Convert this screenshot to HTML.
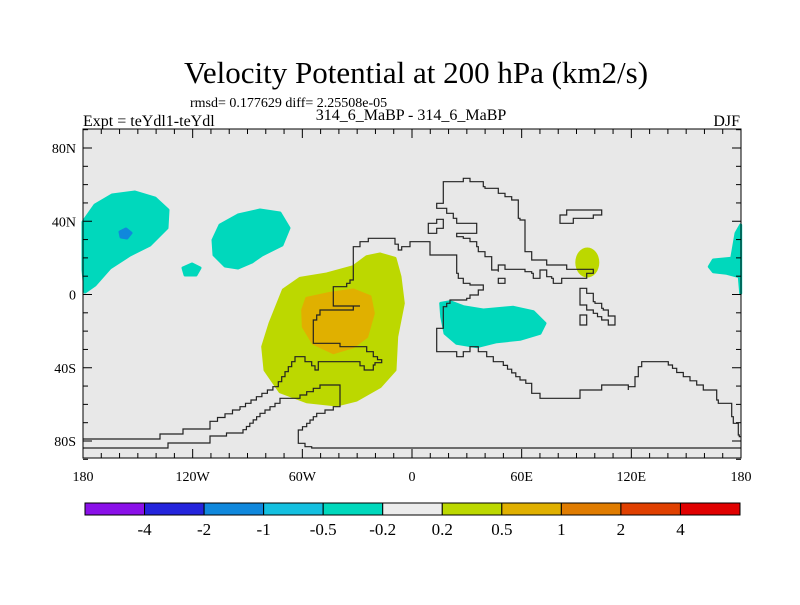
<!DOCTYPE html>
<html><head><meta charset="utf-8"><style>
body{margin:0;background:#fff;}
svg text{font-family:"Liberation Serif",serif;fill:#000;}
</style></head><body>
<svg id="chart" width="800" height="600" viewBox="0 0 800 600" xmlns="http://www.w3.org/2000/svg">
<text x="416" y="83" font-size="31" text-anchor="middle">Velocity Potential at 200 hPa (km2/s)</text>
<text x="190" y="107" font-size="14">rmsd= 0.177629 diff= 2.25508e-05</text>
<text x="83" y="126" font-size="16">Expt = teYdl1-teYdl</text>
<text x="411" y="120" font-size="16" text-anchor="middle">314_6_MaBP - 314_6_MaBP</text>
<text x="740" y="126" font-size="16" text-anchor="end">DJF</text>
<g id="plot"></g>
<g id="axes"></g>
<g id="cbar"></g>
</svg>
<script>
const levels=["-4","-2","-1","-0.5","-0.2","0.2","0.5","1","2","4"];
const colors=["#8a10e8","#2424dc","#1088dc","#14c0e0","#00d8bc","#ececec","#bcd800","#e0b000","#e07c00","#e04000","#e00000"];
const latTicks=[80,40,0,-40,-80];
const latLabels=["80N","40N","0","40S","80S"];
const lonTicks=[-180,-120,-60,0,60,120,180];
const lonLabels=["180","120W","60W","0","60E","120E","180"];
const NS="http://www.w3.org/2000/svg";
const X0=83,X1=741,Y0=129,Y1=458;
const lx=lon=>X0+(lon+180)/360*(X1-X0);
const ly=lat=>294.5-lat*(73.25/40);
function mk(t,a,p){const e=document.createElementNS(NS,t);for(const k in a)e.setAttribute(k,a[k]);p.appendChild(e);return e;}
const plot=document.getElementById('plot');
const bg=mk('rect',{x:X0,y:Y0,width:X1-X0,height:Y1-Y0,fill:'#e8e8e8'},plot);


const z3=p=>p.map(([x,y])=>[240+x/3,170+y/3]);
const z4=p=>p.map(([x,y])=>[420+x/3,170+y/3]);
const pts=a=>a.map(p=>p[0].toFixed(1)+','+p[1].toFixed(1)).join(' ');
function stepify(a,closed){const o=[];const n=a.length;for(let i=0;i<n;i++){o.push(a[i]);const b=a[(i+1)%n];if(i===n-1&&!closed)break;
 const dx=Math.abs(b[0]-a[i][0]),dy=Math.abs(b[1]-a[i][1]);
 if(dx>0.5&&dy>0.5){const s=Math.max(1,Math.round(Math.min(dx,dy)/3.5));
  for(let k=0;k<s;k++){const x1=a[i][0]+(b[0]-a[i][0])*(k+1)/s,y0=a[i][1]+(b[1]-a[i][1])*k/s,y1=a[i][1]+(b[1]-a[i][1])*(k+1)/s;
   o.push([a[i][0]+(b[0]-a[i][0])*k/s,y1]);o.push([x1,y1]);}}}
 return o;}
function poly(a,fill,name,closed){
 a=stepify(a,closed);
 const e=mk(closed?'polygon':'polyline',{points:pts(a),fill:'none',stroke:'#222','stroke-width':1.2},plot);
 
 
 return e;}
function blob(a,fill,name){
 const e=mk('path',{d:'M'+a.map(p=>p[0].toFixed(1)+' '+p[1].toFixed(1)).join(' L')+'Z',fill:fill,'stroke-linejoin':'round',stroke:fill,'stroke-width':3},plot);
 
 }
blob([[83,222],[95,205],[112,195],[135,192],[155,198],[168,210],[167,228],[150,245],[130,255],[110,268],[95,285],[85,292],[83,270]],colors[4],'negative-region-northpacific');
blob([[120,232],[126,229],[131,233],[127,238],[121,237]],colors[2],'negative-core-northpacific');
blob([[213,240],[220,225],[238,215],[260,210],[280,213],[289,228],[282,245],[262,255],[252,262],[238,268],[225,266],[214,255]],colors[4],'negative-region-northamerica');
blob([[183,268],[192,264],[200,268],[196,275],[185,275]],colors[4],'negative-region-small');
blob(z3([[340,290],[380,260],[420,252],[465,265],[480,320],[490,400],[470,500],[465,600],[420,650],[350,690],[290,705],[200,695],[120,665],[75,600],[68,530],[90,460],[130,360],[180,325],[260,312]]),colors[6],'positive-region-southamerica');
blob(z3([[200,385],[270,370],[340,360],[390,380],[400,430],[380,500],[340,530],[280,548],[220,520],[190,470],[188,420]]),colors[7],'positive-core-southamerica');
blob(z4([[62,400],[90,395],[130,410],[190,420],[280,412],[340,425],[375,460],[360,490],[300,508],[230,515],[170,530],[110,520],[75,490],[65,440]]),colors[4],'negative-region-africa');
blob(z4([[868,290],[880,270],[935,265],[948,190],[962,165],[962,370],[958,320],[920,310],[880,305]]),colors[4],'negative-region-pacific-east');
const yo=mk('ellipse',{cx:587.3,cy:262.5,rx:12,ry:15,fill:colors[6]},plot);


poly(z3([[0,720],[115,650],[175,560],[195,560],[215,575],[235,600],[240,575],[360,575],[385,600],[400,600],[405,585],[425,578],[400,560],[380,545],[360,530],[300,530],[300,520],[220,520],[220,465],[240,435],[340,420],[360,408],[280,408],[280,365],[320,350],[340,330],[340,245],[360,230],[385,215],[425,205],[465,205],[485,240],[510,230],[525,215],[570,215],[570,255],[650,255],[655,310],[670,325],[690,340],[730,345],[715,360],[690,375],[680,385],[630,390],[610,410],[610,475],[590,475],[590,545],[650,545],[655,560],[670,560],[690,545],[715,530],[740,545],[760,560],[790,575],[840,620],[875,640],[880,670],[900,670]]).concat(z4([[400,685],[480,685],[480,670],[545,660],[565,645],[625,645],[625,660],[645,650],[665,590],[690,575],[745,575],[770,595],[810,620],[850,645],[890,660],[895,690],[935,700],[940,740],[955,760],[958,795],[963,800]])),null,'coastline-americas-africa-asia',false);
poly([[83,439],[160,439],[160,434],[183,434],[183,429],[210,429],[210,425],[240,410]],null,'coastline-south-1',false);
poly([[83,448],[168,448],[168,443],[210,443],[210,439],[243,433]].concat(z3([[60,740],[120,700],[180,685],[240,655],[260,645],[300,645],[300,700],[280,710],[230,730],[200,760],[175,780],[175,810],[215,830]])).concat([[741,448]]),null,'coastline-south-2',false);
poly(z4([[50,100],[70,100],[70,50],[90,35],[130,35],[135,25],[150,25],[155,35],[190,35],[195,50],[235,55],[255,70],[275,80],[295,90],[300,145],[315,150],[315,240],[335,245],[340,270],[380,270],[380,285],[440,285],[440,298],[520,298],[520,310],[500,310],[500,325],[425,325],[415,340],[400,340],[395,325],[380,320],[375,300],[360,300],[355,325],[340,325],[335,310],[315,305],[310,298],[255,298],[250,285],[235,285],[235,305],[215,300],[215,270],[195,260],[175,245],[170,230],[150,215],[130,205],[110,200],[110,190],[170,190],[170,175],[155,160],[110,160],[100,145],[80,130],[70,115],[50,115]]),null,'coastline-eurasia',true);
poly(z4([[25,160],[50,160],[50,148],[70,148],[70,175],[50,175],[50,190],[25,190]]),null,'island-1',true);
poly(z4([[235,325],[255,325],[255,340],[235,340]]),null,'island-2',true);
poly(z4([[420,135],[440,135],[440,120],[545,120],[545,135],[520,135],[520,145],[460,145],[460,160],[420,160]]),null,'island-japan',true);
poly(z4([[480,355],[500,355],[500,365],[520,370],[525,395],[545,400],[550,415],[565,420],[565,438],[585,438],[585,465],[565,465],[545,450],[520,430],[500,420],[480,405]]),null,'island-seasia',true);
poly(z4([[480,435],[500,435],[500,465],[480,465]]),null,'island-seasia-2',true);
const ax=document.getElementById('axes');
const fr=mk('rect',{x:X0,y:Y0,width:X1-X0,height:Y1-Y0,fill:'none',stroke:'#000','stroke-width':1},ax);


for(let lon=-180;lon<=180;lon+=10){const x=lx(lon),L=lon%60===0?9:5;
 mk('line',{x1:x,y1:Y1,x2:x,y2:Y1-L,stroke:'#000'},ax);mk('line',{x1:x,y1:Y0,x2:x,y2:Y0+L,stroke:'#000'},ax);}
for(let lat=-90;lat<=90;lat+=10){const y=ly(lat),L=lat%40===0?9:5;
 mk('line',{x1:X0,y1:y,x2:X0+L,y2:y,stroke:'#000'},ax);mk('line',{x1:X1,y1:y,x2:X1-L,y2:y,stroke:'#000'},ax);}
latTicks.forEach((v,i)=>{const t=mk('text',{x:76,y:ly(v)+5,'font-size':14,'text-anchor':'end'},ax);t.textContent=latLabels[i];
 
 });
lonTicks.forEach((v,i)=>{const t=mk('text',{x:lx(v),y:481,'font-size':14,'text-anchor':'middle'},ax);t.textContent=lonLabels[i];
 
 });
const cb=document.getElementById('cbar');const cx0=85,cx1=740,cw=(cx1-cx0)/colors.length;
colors.forEach((c,i)=>{const r=mk('rect',{x:cx0+i*cw,y:503,width:cw,height:12,fill:c,stroke:'#000','stroke-width':1},cb);
 
 });
levels.forEach((v,i)=>{const t=mk('text',{x:cx0+(i+1)*cw,y:535,'font-size':17,'text-anchor':'middle'},cb);t.textContent=v;
 
 });
</script>
</body></html>
